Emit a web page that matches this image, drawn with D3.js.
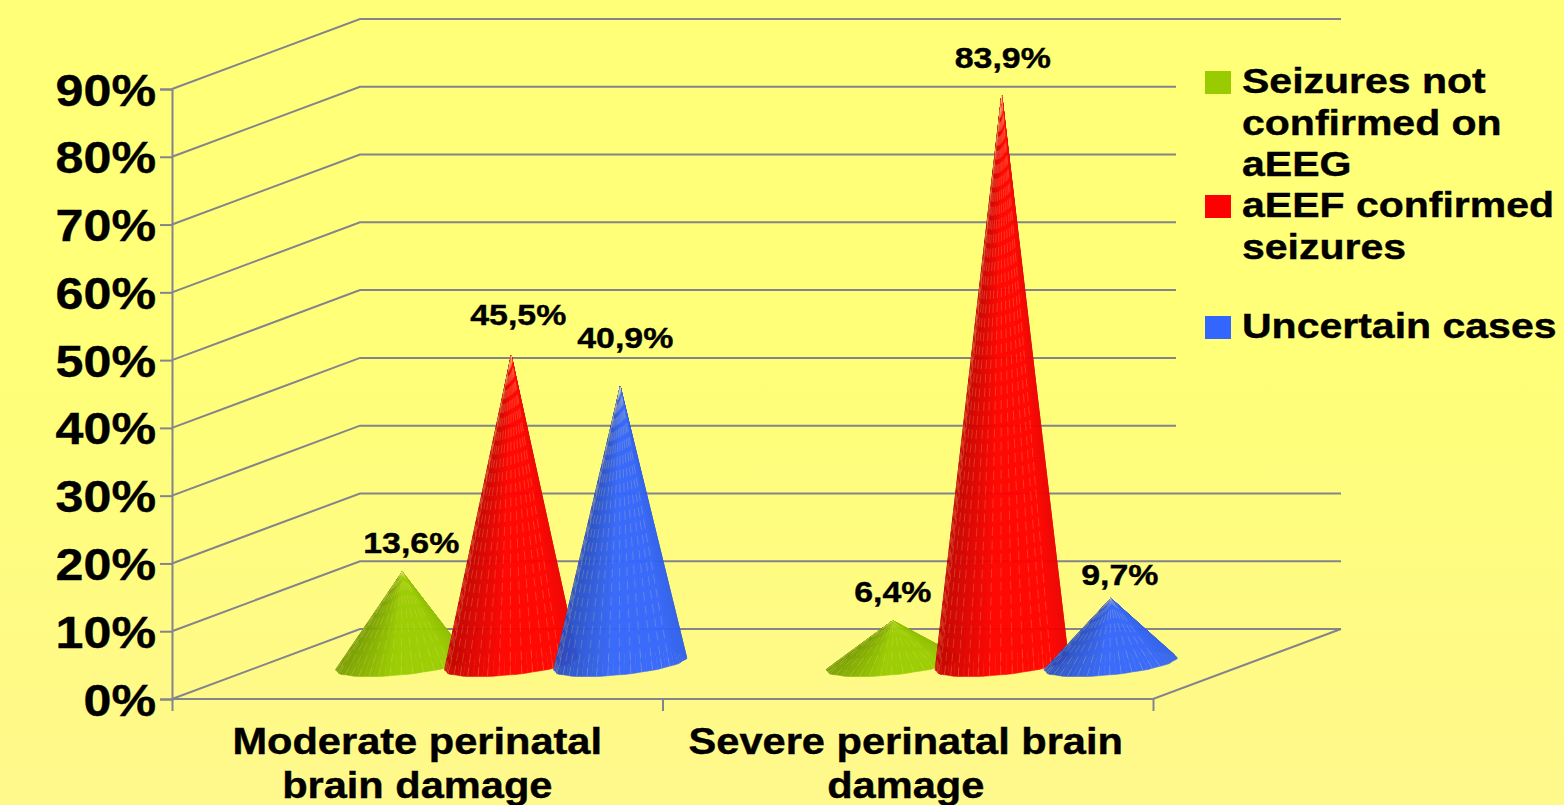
<!DOCTYPE html>
<html>
<head>
<meta charset="utf-8">
<script src="https://cdnjs.cloudflare.com/ajax/libs/d3/7.8.5/d3.min.js"></script>
<style>
    html, body { margin: 0; padding: 0; overflow: hidden; background: #fffb7c; }
    text { font-family: "Liberation Sans", Arial, sans-serif; font-weight: bold; fill: #000; stroke: #000; stroke-width: 0.4px; }
</style>
</head>
<body>
<svg id="chart" width="1564" height="805"></svg>
<script>
const categories = ['Moderate perinatal brain damage', 'Severe perinatal brain damage']
const categoryLines = [['Moderate perinatal', 'brain damage'], ['Severe perinatal brain', 'damage']]
const seriesNames = ['Seizures not confirmed on aEEG', 'aEEF confirmed seizures', 'Uncertain cases']
const legendLines = [['Seizures not', 'confirmed on', 'aEEG'], ['aEEF confirmed', 'seizures'], ['Uncertain cases']]
const notConfirmed = [13.6, 6.4]
const confirmed = [45.5, 83.9]
const uncertain = [40.9, 9.7]
const dataLabels = [['13,6%', '6,4%'], ['45,5%', '83,9%'], ['40,9%', '9,7%']]
const yTicks = [0, 10, 20, 30, 40, 50, 60, 70, 80, 90]

const seriesValues = [notConfirmed, confirmed, uncertain]
const colors = ['#99cc00', '#ff0000', '#3366ff']
const gridColor = '#84848c'

// layout
const plotLeft = 172, plotRight = 1153, plotTop = 89, plotBottom = 699
const depthX = 188, depthY = -70
const coneR = 56.6, coneDepth = 0.18, facets = 72

const svg = d3.select('#chart')

const bg = svg.append('defs').append('linearGradient')
    .attr('id', 'bg')
    .attr('gradientUnits', 'userSpaceOnUse')
    .attr('x1', 0).attr('y1', 0).attr('x2', 0).attr('y2', 805)
bg.append('stop').attr('offset', 0).attr('stop-color', '#ffff78')
bg.append('stop').attr('offset', 0.45).attr('stop-color', '#ffff78')
bg.append('stop').attr('offset', 1).attr('stop-color', '#fff88c')

svg.append('rect').attr('width', 1564).attr('height', 805).attr('fill', 'url(#bg)')

const y = d3.scaleLinear().domain([0, 90]).range([plotBottom, plotTop])
const x = d3.scaleBand().domain(categories).range([plotLeft, plotRight])
const xSeries = d3.scaleBand().domain(seriesNames).range([-163.5, 163.5])
const xEdges = d3.scaleLinear().domain([0, categories.length]).range([plotLeft, plotRight])

// walls and floor
const grid = svg.append('g').attr('fill', 'none').attr('stroke', gridColor).attr('stroke-width', 2)
yTicks.forEach(t => {
    grid.append('path').attr('d', d3.line()([
        [plotLeft, y(t)],
        [plotLeft + depthX, y(t) + depthY],
        [plotRight + depthX, y(t) + depthY]
    ]))
})
grid.append('path').attr('d', d3.line()([
    [plotLeft, plotBottom], [plotRight, plotBottom], [plotRight + depthX, plotBottom + depthY]
]))

// legend box hides the wall lines behind it
svg.append('rect')
    .attr('x', 1176).attr('y', 40)
    .attr('width', 388).attr('height', 420)
    .attr('fill', 'url(#bg)')

// axes
const yAxis = svg.append('g')
    .attr('transform', `translate(${plotLeft},0)`)
    .call(d3.axisLeft(y).tickValues(yTicks).tickSize(12).tickFormat(d => d + '%'))
yAxis.select('.domain').attr('stroke', gridColor).attr('stroke-width', 2)
yAxis.selectAll('line').attr('stroke', gridColor).attr('stroke-width', 2)
yAxis.selectAll('text')
    .attr('x', 0).attr('dy', null)
    .attr('transform', 'translate(-16,16) scale(1.115,1)')
    .attr('font-size', 45)
    .attr('font-family', '"Liberation Sans", Arial, sans-serif')

const xAxis = svg.append('g')
    .attr('transform', `translate(0,${plotBottom})`)
    .call(d3.axisBottom(xEdges).ticks(categories.length).tickSize(12).tickFormat(''))
xAxis.select('.domain').remove()
xAxis.selectAll('line').attr('stroke', gridColor).attr('stroke-width', 2)

// cones
function conePoint(cx, cy, a) {
    // small ripple so the base edge has the faceted look of the original
    const k = 1 + 0.014 * Math.cos(14 * a)
    return [
        cx + k * (Math.cos(a) * coneR + Math.sin(a) * depthX * coneDepth),
        cy + k * Math.sin(a) * depthY * coneDepth
    ]
}

function facetColor(color, t) {
    // t -1 left edge, 1 right edge
    const lit = Math.max(0, 1 - Math.abs(t - 0.3) / 1.3)
    return d3.interpolateRgb(d3.color(color).darker(0.75), color)(Math.min(1, lit * 1.5))
}

function drawCone(g, cx, value, color) {
    const cy = y(0) + depthY / 2
    const apex = [cx, y(value) + depthY / 2]
    const spread = Math.hypot(coneR, depthX * coneDepth)
    const slices = d3.range(facets).map(i => {
        const a0 = i / facets * 2 * Math.PI
        const a1 = (i + 1) / facets * 2 * Math.PI
        return { a0, a1, mid: (a0 + a1) / 2 }
    }).sort((p, q) => Math.sin(q.mid) - Math.sin(p.mid))

    const cone = g.append('g').attr('opacity', 0.96)
    slices.forEach(s => {
        const p0 = conePoint(cx, cy, s.a0)
        const p1 = conePoint(cx, cy, s.a1)
        const fill = facetColor(color, (conePoint(cx, cy, s.mid)[0] - cx) / spread)
        cone.append('path')
            .attr('d', d3.line()([apex, p0, p1]) + 'Z')
            .attr('fill', fill)
            .attr('stroke', fill)
            .attr('stroke-width', 0.5)
    })
    // pale dashed streaks along the front of the cone
    slices.filter(s => Math.sin(s.mid) < -0.05 && Math.round(s.a0 / (2 * Math.PI) * facets) % 2 === 0).forEach(s => {
        cone.append('path')
            .attr('d', d3.line()([conePoint(cx, cy, s.a0), apex]))
            .attr('stroke', '#ffe890')
            .attr('stroke-opacity', 0.25)
            .attr('stroke-width', 0.8)
            .attr('stroke-dasharray', '9 5')
            .attr('fill', 'none')
    })
}

const labelShift = [
    [[9, -19], [0, -19]],
    [[7, -31], [1, -27]],
    [[5, -39], [9, -13]]
]

seriesNames.forEach((name, s) => {
    categories.forEach((cat, c) => {
        const cx = x(cat) + x.bandwidth() / 2 + depthX / 2 + xSeries(name) + xSeries.bandwidth() / 2
        const v = seriesValues[s][c]
        drawCone(svg, cx, v, colors[s])
        svg.append('text')
            .attr('transform', `translate(${cx + labelShift[s][c][0]},${y(v) + depthY / 2 + labelShift[s][c][1]}) scale(1.13,1)`)
            .attr('text-anchor', 'middle')
            .attr('font-size', 30)
            .text(dataLabels[s][c])
    })
})

// category labels
categories.forEach((cat, c) => {
    categoryLines[c].forEach((line, i) => {
        svg.append('text')
            .attr('transform', `translate(${x(cat) + x.bandwidth() / 2 - (c ? 2 : 0)},${754 + i * 44}) scale(1.155,1)`)
            .attr('text-anchor', 'middle')
            .attr('font-size', 36)
            .text(line)
    })
})

// legend
const legendBase = [93, 217, 338]
seriesNames.forEach((name, s) => {
    svg.append('rect')
        .attr('x', 1205).attr('y', legendBase[s] - 22)
        .attr('width', 26).attr('height', 23)
        .attr('fill', colors[s])
    legendLines[s].forEach((line, i) => {
        svg.append('text')
            .attr('transform', `translate(1242,${legendBase[s] + i * 41.5}) scale(1.172,1)`)
            .attr('font-size', 35)
            .text(line)
    })
})
</script>
</body>
</html>
